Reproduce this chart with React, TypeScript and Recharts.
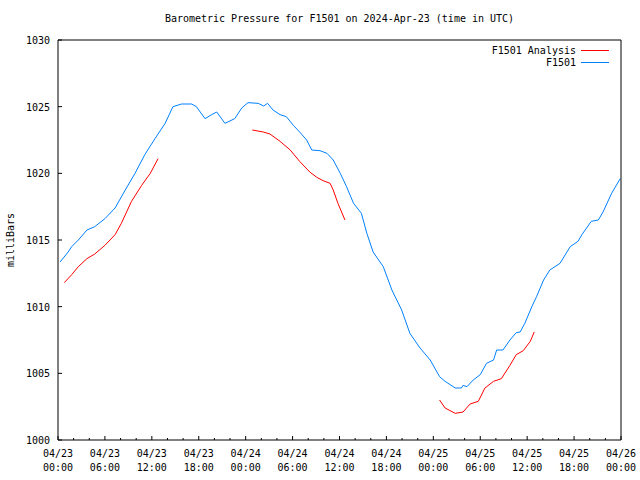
import { Line, LineChart, XAxis, YAxis } from "recharts";

// hours since 2024-04-23 00:00 UTC
const f1501Hours = [
  0.26, 1.3, 1.75, 2.6, 3.7, 4.7, 6.0, 7.3, 8.6, 9.85, 11.1, 12.4, 13.7, 14.7, 15.8, 17.1, 17.7,
  18.8, 19.65, 20.3, 21.35, 22.6, 23.5, 24.3, 25.6, 26.3, 26.8, 27.5, 28.4, 29.2, 30.1, 30.9, 31.8,
  32.45, 33.5, 34.4, 35.2, 36.1, 36.9, 37.8, 38.8, 39.5, 40.3, 41.6, 42.7, 43.95, 45.0, 46.3, 47.6,
  48.8, 49.5, 50.8, 51.6, 51.8, 52.3, 53.1, 54.0, 54.8, 55.7, 56.1, 56.9, 57.8, 58.6, 59.1, 59.7,
  60.6, 61.2, 62.1, 62.9, 64.2, 65.5, 66.5, 67.0, 68.2, 69.1, 69.7, 70.8, 71.9,
];
const f1501Mb = [
  1013.35, 1014.1, 1014.5, 1015.0, 1015.75, 1016.0, 1016.6, 1017.4, 1018.75, 1020.0, 1021.4, 1022.6,
  1023.75, 1025.0, 1025.2, 1025.2, 1025.0, 1024.1, 1024.4, 1024.6, 1023.75, 1024.1, 1024.9, 1025.3,
  1025.25, 1025.05, 1025.25, 1024.75, 1024.4, 1024.25, 1023.6, 1023.1, 1022.5, 1021.75, 1021.7,
  1021.5, 1021.0, 1020.0, 1019.0, 1017.75, 1017.0, 1015.5, 1014.1, 1013.0, 1011.25, 1009.75, 1008.0,
  1006.9, 1006.0, 1004.75, 1004.4, 1003.9, 1003.9, 1004.1, 1004.0, 1004.5, 1004.9, 1005.75, 1006.0,
  1006.75, 1006.75, 1007.5, 1008.05, 1008.1, 1008.75, 1010.0, 1010.75, 1012.0, 1012.75, 1013.25,
  1014.5, 1014.9, 1015.4, 1016.4, 1016.5, 1017.1, 1018.5, 1019.6,
];

const analysisHours1 = [0.8, 1.75, 2.6, 3.7, 4.7, 6.0, 7.3, 8.1, 9.4, 10.7, 11.8, 12.8];
const analysisMb1 = [1011.8, 1012.4, 1013.0, 1013.6, 1013.95, 1014.6, 1015.4, 1016.25, 1017.9, 1019.1, 1020.0, 1021.1];
const analysisHours2 = [24.85, 26.25, 27.1, 28.4, 29.7, 30.9, 32.2, 33.1, 33.9, 34.8, 35.2, 35.8, 36.7];
const analysisMb2 = [1023.25, 1023.1, 1022.95, 1022.4, 1021.75, 1020.9, 1020.1, 1019.7, 1019.45, 1019.25, 1018.75, 1017.75, 1016.5];
const analysisHours3 = [48.8, 49.5, 50.8, 51.8, 52.7, 53.75, 54.6, 55.7, 56.7, 57.8, 58.6, 59.5, 60.4, 60.9];
const analysisMb3 = [1003.0, 1002.4, 1002.0, 1002.1, 1002.7, 1002.9, 1003.9, 1004.4, 1004.6, 1005.6, 1006.4, 1006.7, 1007.4, 1008.1];

const timeTicks = [
  0, 2, 4, 6, 8, 10, 12, 14, 16, 18, 20, 22, 24, 26, 28, 30, 32, 34, 36, 38, 40, 42, 44, 46, 48,
  50, 52, 54, 56, 58, 60, 62, 64, 66, 68, 70, 72,
];
const tickDays = ["04/23", "04/23", "04/23", "04/23", "04/24", "04/24", "04/24", "04/24", "04/25", "04/25", "04/25", "04/25", "04/26"];
const tickTimes = ["00:00", "06:00", "12:00", "18:00", "00:00", "06:00", "12:00", "18:00", "00:00", "06:00", "12:00", "18:00", "00:00"];
const pressureTicks = [1000, 1005, 1010, 1015, 1020, 1025, 1030];

const legendNames = ["F1501 Analysis", "F1501"];

const toRows = (hours: number[], mb: number[]) => hours.map((h, i) => ({ hour: h, mb: mb[i] }));

const f1501Data = toRows(f1501Hours, f1501Mb);
const analysis1 = toRows(analysisHours1, analysisMb1);
const analysis2 = toRows(analysisHours2, analysisMb2);
const analysis3 = toRows(analysisHours3, analysisMb3);

const FONT = "'DejaVu Sans Mono', monospace";
const RED = "#ff0000";
const BLUE = "#0080ff";
const legendColors = [RED, BLUE];

const isMajor = (v: number) => v % 6 === 0;

function BottomTick(props: any) {
  const { x, y, payload } = props;
  const v = payload.value;
  const major = isMajor(v);
  const i = v / 6;
  return (
    <g>
      <line x1={x} x2={x} y1={y} y2={y - (major ? 4 : 2)} stroke="#000" />
      {major && (
        <text x={x} textAnchor="middle" fontFamily={FONT} fontSize={10} fill="#000">
          <tspan x={x} y={y + 17}>{tickDays[i]}</tspan>
          <tspan x={x} y={y + 31}>{tickTimes[i]}</tspan>
        </text>
      )}
    </g>
  );
}

function TopTick(props: any) {
  const { x, y, payload } = props;
  const major = isMajor(payload.value);
  return <line x1={x} x2={x} y1={y} y2={y + (major ? 4 : 2)} stroke="#000" />;
}

function LeftTick(props: any) {
  const { x, y, payload } = props;
  return (
    <g>
      <line x1={x} x2={x + 4} y1={y} y2={y} stroke="#000" />
      <text x={x - 8} y={y + 4} textAnchor="end" fontFamily={FONT} fontSize={10} fill="#000">
        {payload.value}
      </text>
    </g>
  );
}

function RightTick(props: any) {
  const { x, y } = props;
  return <line x1={x} x2={x - 4} y1={y} y2={y} stroke="#000" />;
}

export default function App() {
  return (
    <div style={{ position: "absolute", left: 0, top: 0, width: 640, height: 480, background: "#fff" }}>
      <div
        style={{
          position: "absolute",
          left: 58,
          top: 13,
          width: 563,
          textAlign: "center",
          fontFamily: FONT,
          fontSize: 10,
          lineHeight: "12px",
        }}
      >
        Barometric Pressure for F1501 on 2024-Apr-23 (time in UTC)
      </div>
      <div
        style={{
          position: "absolute",
          left: 10,
          top: 240,
          transform: "translate(-50%, -50%) rotate(-90deg)",
          fontFamily: FONT,
          fontSize: 10,
          whiteSpace: "nowrap",
        }}
      >
        milliBars
      </div>
      <div style={{ position: "absolute", right: 31, top: 44, fontFamily: FONT, fontSize: 10, zIndex: 1 }}>
        {legendNames.map((name, i) => (
          <div key={name} style={{ display: "flex", justifyContent: "flex-end", alignItems: "center", height: 12 }}>
            <span>{name}</span>
            <span style={{ display: "inline-block", width: 28, height: 0, borderTop: `1px solid ${legendColors[i]}`, marginLeft: 5 }} />
          </div>
        ))}
      </div>
      <LineChart width={640} height={480} margin={{ top: 39, right: 18, bottom: 39, left: 57 }}>
        <XAxis
          dataKey="hour"
          type="number"
          domain={[0, 72]}
          ticks={timeTicks}
          interval={0}
          height={1}
          tickSize={0}
          tickMargin={0}
          tickLine={false}
          axisLine={{ stroke: "#000" }}
          tick={(p: any) => <BottomTick {...p} />}
          allowDataOverflow
        />
        <XAxis
          xAxisId="top"
          orientation="top"
          dataKey="hour"
          type="number"
          domain={[0, 72]}
          ticks={timeTicks}
          interval={0}
          height={1}
          tickSize={0}
          tickMargin={0}
          tickLine={false}
          axisLine={{ stroke: "#000" }}
          tick={(p: any) => <TopTick {...p} />}
        />
        <YAxis
          type="number"
          domain={[1000, 1030]}
          ticks={pressureTicks}
          interval={0}
          width={1}
          tickSize={0}
          tickMargin={0}
          tickLine={false}
          axisLine={{ stroke: "#000" }}
          tick={(p: any) => <LeftTick {...p} />}
          allowDataOverflow
        />
        <YAxis
          yAxisId="right"
          orientation="right"
          type="number"
          domain={[1000, 1030]}
          ticks={pressureTicks}
          interval={0}
          width={1}
          tickSize={0}
          tickMargin={0}
          tickLine={false}
          axisLine={{ stroke: "#000" }}
          tick={(p: any) => <RightTick {...p} />}
        />
        <Line data={analysis1} dataKey="mb" name="F1501 Analysis" stroke={RED} strokeWidth={1} dot={false} type="linear" isAnimationActive={false} />
        <Line data={analysis2} dataKey="mb" name="F1501 Analysis" stroke={RED} strokeWidth={1} dot={false} type="linear" isAnimationActive={false} />
        <Line data={analysis3} dataKey="mb" name="F1501 Analysis" stroke={RED} strokeWidth={1} dot={false} type="linear" isAnimationActive={false} />
        <Line data={f1501Data} dataKey="mb" name="F1501" stroke={BLUE} strokeWidth={1} dot={false} type="linear" isAnimationActive={false} />
      </LineChart>
    </div>
  );
}
